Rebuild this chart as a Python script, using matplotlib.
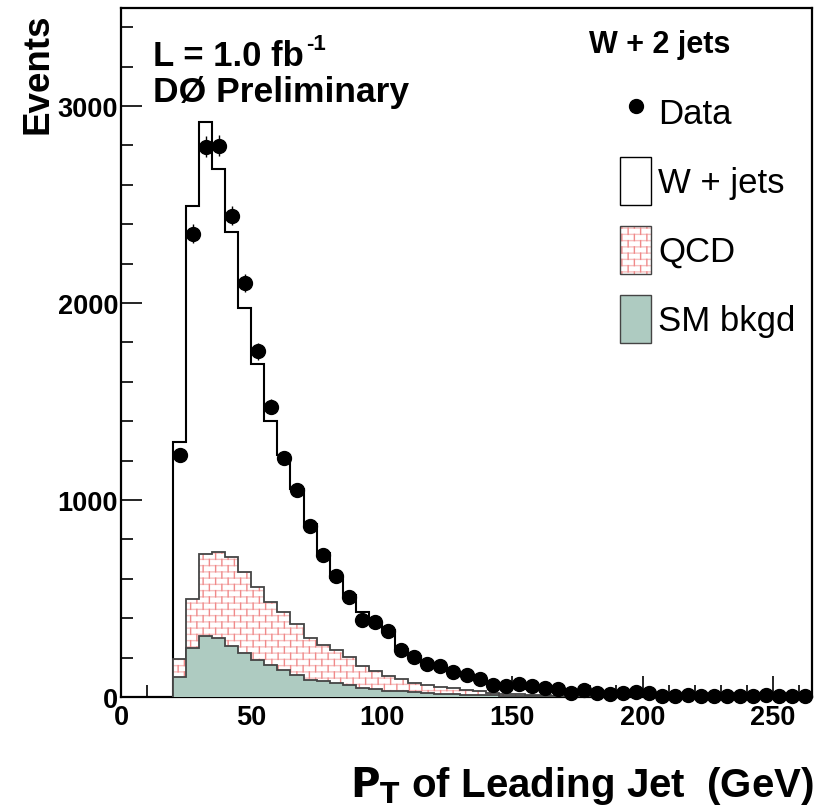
import warnings
import numpy as np
import matplotlib
matplotlib.use("Agg")
import matplotlib.pyplot as plt
from matplotlib import hatch as mhatch
from matplotlib.path import Path
from matplotlib.patches import Patch
from matplotlib.lines import Line2D
from matplotlib.legend_handler import HandlerTuple
from matplotlib.colors import to_rgba

warnings.filterwarnings("ignore")

# ---------------- data ----------------
bin_edges = np.arange(20, 270, 5)          # 20 ... 265 GeV, 5 GeV bins
bin_centers = bin_edges[:-1] + 2.5

sm_bkgd = [103, 247, 311, 299, 260, 223, 189, 162, 138, 111,
           88, 80, 72, 63, 45, 42, 32, 29, 24, 21,
           17, 15, 12, 10, 8, 7, 6, 5, 4, 3,
           3, 2, 2, 2, 1, 1, 1, 1, 0, 0,
           0, 0, 0, 0, 0, 0, 0, 0, 0]
qcd = [88, 251, 417, 438, 452, 413, 371, 320, 296, 259,
       214, 186, 168, 138, 114, 91, 76, 63, 49, 41,
       32, 29, 24, 22, 12, 10, 8, 6, 5, 4,
       3, 3, 2, 2, 2, 2, 1, 1, 2, 1,
       1, 1, 1, 1, 1, 0, 0, 0, 0]
w_jets = [1101, 1992, 2191, 1944, 1650, 1337, 1128, 918, 794, 688,
          578, 466, 365, 319, 270, 245, 232, 153, 135, 108,
          99, 82, 70, 56, 52, 43, 36, 32, 28, 24,
          21, 18, 16, 13, 12, 10, 9, 8, 7, 7,
          6, 5, 5, 4, 4, 4, 4, 3, 3]
data = [1227, 2352, 2793, 2798, 2443, 2103, 1755, 1473, 1213, 1051,
        868, 720, 615, 510, 393, 382, 336, 240, 204, 166,
        155, 128, 110, 92, 60, 54, 68, 57, 48, 42,
        18, 36, 22, 16, 20, 26, 20, 5, 7, 8,
        6, 7, 6, 5, 6, 8, 5, 6, 4]

x_major = [0, 50, 100, 150, 200, 250]
y_major = [0, 1000, 2000, 3000]

sm_top = np.array(sm_bkgd, float)
qcd_top = sm_top + np.array(qcd, float)
tot_top = qcd_top + np.array(w_jets, float)
data = np.array(data, float)

# ---------------- brick hatch ----------------
class BrickRows(mhatch.HatchPatternBase):
    def __init__(self, hatch, density):
        self.n = 16 if "r" in hatch else 0
        self.num_vertices = 2 * self.n

    def set_vertices_and_codes(self, vertices, codes):
        ys = (np.arange(self.n) + 0.5) / self.n
        vertices[0::2, 0] = 0.0
        vertices[0::2, 1] = ys
        vertices[1::2, 0] = 1.0
        vertices[1::2, 1] = ys
        codes[0::2] = Path.MOVETO
        codes[1::2] = Path.LINETO


class BrickJoints(mhatch.HatchPatternBase):
    def __init__(self, hatch, density):
        self.rows = 16 if "v" in hatch else 0
        self.cols = 8
        self.segs = []
        for i in range(self.rows):
            y0 = (i + 0.5) / self.rows
            y1 = (i + 1.5) / self.rows
            for j in range(self.cols):
                x = (j + 0.25 + 0.5 * (i % 2)) / self.cols
                if y1 <= 1.0:
                    self.segs.append(((x, y0), (x, y1)))
                else:
                    self.segs.append(((x, y0), (x, 1.0)))
                    self.segs.append(((x, 0.0), (x, y1 - 1.0)))
        self.num_vertices = 2 * len(self.segs)

    def set_vertices_and_codes(self, vertices, codes):
        for k, (a, b) in enumerate(self.segs):
            vertices[2 * k] = a
            vertices[2 * k + 1] = b
            codes[2 * k] = Path.MOVETO
            codes[2 * k + 1] = Path.LINETO


mhatch._hatch_types.append(BrickRows)
mhatch._hatch_types.append(BrickJoints)

ROW_COL = "#f6c0c0"
JOINT_COL = "#f08a8a"
SM_COL = "#aecbc1"
EDGE_COL = "#444444"


def set_hcol(p, c):
    p._hatch_color = to_rgba(c)
    return p

# ---------------- style ----------------
plt.rcParams["font.family"] = ["Liberation Sans", "DejaVu Sans"]
plt.rcParams["hatch.linewidth"] = 1.0

W, H = 826, 812
fig = plt.figure(figsize=(W / 100, H / 100), dpi=100)
ax = fig.add_axes([121 / W, (H - 698) / H, (812 - 121) / W, (698 - 8.5) / H])

# stacked histograms (ROOT style: each cumulative drawn from 0)
ax.stairs(tot_top, bin_edges, baseline=0, fill=True, facecolor="white",
          edgecolor="black", linewidth=1.5, zorder=2)
p1 = ax.stairs(qcd_top, bin_edges, baseline=0, fill=True, facecolor="white",
               linewidth=0, hatch="r", zorder=3)
set_hcol(p1, ROW_COL)
p2 = ax.stairs(qcd_top, bin_edges, baseline=0, fill=True, facecolor="none",
               linewidth=0, hatch="v", zorder=3.1)
set_hcol(p2, JOINT_COL)
ax.stairs(qcd_top, bin_edges, baseline=0, fill=False, edgecolor=EDGE_COL,
          linewidth=1.3, zorder=3.2)
ax.stairs(sm_top, bin_edges, baseline=0, fill=True, facecolor=SM_COL,
          edgecolor=EDGE_COL, linewidth=1.3, zorder=4)

ax.errorbar(bin_centers, data, yerr=np.sqrt(data), fmt="o", color="black",
            markersize=10, elinewidth=1.0, capsize=0, zorder=6, clip_on=False)

ax.set_xlim(0, 265)
ax.set_ylim(0, 3500)
ax.set_xticks(x_major)
ax.set_yticks(y_major)
ax.set_xticks(np.arange(10, 265, 10), minor=True)
ax.set_yticks(np.arange(200, 3500, 200), minor=True)
ax.tick_params(which="both", direction="in", top=False, right=False, width=1.2)
ax.tick_params(which="major", length=15)
ax.tick_params(which="minor", length=8.5)
ax.tick_params(axis="x", pad=5)
ax.tick_params(axis="y", pad=2)
for lab in ax.get_xticklabels() + ax.get_yticklabels():
    lab.set_fontsize(19.5)
    lab.set_fontweight("bold")
for s in ax.spines.values():
    s.set_linewidth(1.6)

# texts
def fx(px):
    return px / W

def fy(py):
    return 1 - py / H

lumi = fig.text(fx(153), fy(66), "L = 1.0 fb", fontsize=25, fontweight="bold",
                ha="left", va="baseline")
fig.text(fx(153), fy(102), "DØ Preliminary", fontsize=25.5, fontweight="bold",
         ha="left", va="baseline")
fig.text(fx(589), fy(53), "W + 2 jets", fontsize=22, fontweight="bold",
         ha="left", va="baseline")
fig.text(fx(38), fy(14), "Events", fontsize=26.5, fontweight="bold",
         rotation=90, ha="center", va="top")
fig.text(fx(814), fy(797), r"$\mathbf{P_T}$ of Leading Jet  (GeV)", fontsize=29,
         fontweight="bold", ha="right", va="baseline")

fig.canvas.draw()
bb = lumi.get_window_extent()
fig.text((bb.x1 + 2) / W, fy(50), "-1", fontsize=16, fontweight="bold",
         ha="left", va="baseline")

# legend
h_data = Line2D([], [], ls="none", marker="o", color="black", markersize=10)
h_w = Patch(facecolor="white", edgecolor="black", linewidth=1.0)
hq1 = set_hcol(Patch(facecolor="white", hatch="r", linewidth=0), ROW_COL)
hq2 = set_hcol(Patch(facecolor="none", hatch="v", linewidth=0), JOINT_COL)
hq3 = Patch(facecolor="none", edgecolor=EDGE_COL, linewidth=1.0)
h_sm = Patch(facecolor=SM_COL, edgecolor=EDGE_COL, linewidth=1.0)
leg = ax.legend([h_data, h_w, (hq1, hq2, hq3), h_sm],
                ["Data", "W + jets", "QCD", "SM bkgd"],
                handler_map={tuple: HandlerTuple(ndivide=1, pad=0)},
                loc="upper left", bbox_to_anchor=(fx(620), fy(89)),
                bbox_transform=fig.transFigure, frameon=False, fontsize=25,
                handlelength=0.9, handleheight=1.75, labelspacing=0.6,
                handletextpad=0.2, borderpad=0, borderaxespad=0)

fig.savefig("out.png", dpi=100)
